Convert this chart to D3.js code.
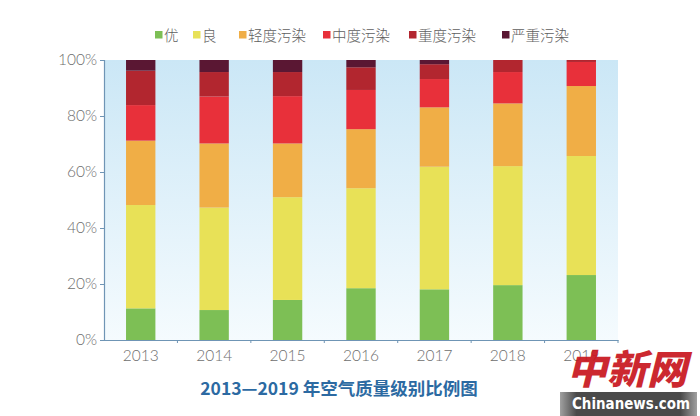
<!DOCTYPE html>
<html><head><meta charset="utf-8">
<script src="https://cdn.jsdelivr.net/npm/d3@7"></script>
<style>
html,body{margin:0;padding:0;background:#fff;}
svg{display:block;}
</style></head>
<body>
<svg id="c" width="700" height="416"></svg>
<script>
const years = ["2013","2014","2015","2016","2017","2018","2019"];
const seriesNames = ["优","良","轻度污染","中度污染","重度污染","严重污染"];
const seriesColors = ["#7dbf55","#e8e157","#f0ae46","#e8303a","#b2262f","#5a1733"];
const excellent = [11.3, 10.7, 14.3, 18.5, 18.1, 19.6, 23.2];
const good      = [36.9, 36.6, 36.7, 35.7, 43.8, 42.5, 42.5];
const light     = [23.0, 22.9, 19.2, 21.1, 21.2, 22.4, 25.0];
const moderate  = [12.7, 16.8, 16.9, 14.0, 10.1, 11.2, 8.6];
const heavy     = [12.3, 8.7, 8.6, 8.1, 5.3, 4.3, 0.7];
const severe    = [3.8, 4.3, 4.3, 2.6, 1.5, 0, 0];
const yTicks = [0, 20, 40, 60, 80, 100];
const titleText = "2013—2019 年空气质量级别比例图";

const seriesValues = [excellent, good, light, moderate, heavy, severe];
const rows = years.map((yr, i) => {
  const r = {year: yr};
  seriesNames.forEach((n, k) => r[n] = seriesValues[k][i]);
  return r;
});
const stacked = d3.stack().keys(seriesNames)(rows);

const svg = d3.select("#c");
const pLeft = 104, pRight = 618, pTop = 60, pBottom = 340;

const x = d3.scaleBand().domain(years).range([pLeft, pRight]).paddingInner(0.6).paddingOuter(0.3);
const y = d3.scaleLinear().domain([0, 100]).range([pBottom, pTop]);

// background gradient
const defs = svg.append("defs");
const grad = defs.append("linearGradient").attr("id","bg").attr("x1",0).attr("y1",0).attr("x2",0).attr("y2",1);
grad.append("stop").attr("offset","0%").attr("stop-color","#cbe7f6");
grad.append("stop").attr("offset","100%").attr("stop-color","#f5fbfe");
svg.append("rect").attr("x", pLeft).attr("y", pTop).attr("width", pRight-pLeft).attr("height", pBottom-pTop).attr("fill","url(#bg)");

// bars
svg.append("g").selectAll("g").data(stacked).join("g")
  .attr("fill", (d, i) => seriesColors[i])
  .selectAll("rect").data(d => d).join("rect")
  .attr("x", d => x(d.data.year))
  .attr("width", x.bandwidth())
  .attr("y", d => y(d[1]))
  .attr("height", d => Math.max(0, y(d[0]) - y(d[1])));

const axisColor = "#6f95b5";
const textColor = "#6e6e6e";
const font = "Lato, 'Noto Sans', sans-serif";

// y axis
const ya = svg.append("g").attr("transform", `translate(${pLeft},0)`)
  .call(d3.axisLeft(y).tickValues(yTicks).tickFormat(d => d + "%").tickSize(4).tickPadding(3));
ya.select(".domain").attr("stroke", axisColor).attr("stroke-width", 1.2);
ya.selectAll(".tick line").attr("stroke", axisColor);
ya.selectAll("text").attr("fill", textColor).attr("font-family", font).attr("font-size", 15.5).attr("font-weight", 300);

// x axis
const xa = svg.append("g").attr("transform", `translate(0,${pBottom})`)
  .call(d3.axisBottom(x).tickSize(0).tickPadding(10));
xa.select(".domain").attr("stroke", axisColor).attr("stroke-width", 1.2);
xa.selectAll("text").attr("fill", textColor).attr("font-family", font).attr("font-size", 15.5).attr("font-weight", 300);
// small ticks at band boundaries
const step = x.step();
const boundaries = years.map((yr, i) => pLeft + step * (i + 1));
svg.append("g").selectAll("line").data(boundaries).join("line")
  .attr("x1", d => d).attr("x2", d => d).attr("y1", pBottom).attr("y2", pBottom + 3)
  .attr("stroke", axisColor);

// legend
const legendX = [155, 193, 239, 323, 409, 502];
const lg = svg.append("g");
seriesNames.forEach((n, i) => {
  lg.append("rect").attr("x", legendX[i]).attr("y", 31).attr("width", 7.5).attr("height", 7.5).attr("fill", seriesColors[i]);
  lg.append("text").attr("x", legendX[i] + 9).attr("y", 40.5).text(n)
    .attr("fill", "#5e5e5e").attr("font-family", "'Noto Sans CJK SC', sans-serif").attr("font-size", 14.5).attr("font-weight", 300);
});

// title
svg.append("text").attr("x", 339).attr("y", 395).attr("text-anchor", "middle").text(titleText)
  .attr("fill", "#2c6aa2").attr("font-family", "'Noto Sans CJK SC', sans-serif").attr("font-size", 17.5).attr("font-weight", 700);

// watermark
svg.append("text").attr("x", 627).attr("y", 384).attr("text-anchor", "middle").text("中新网")
  .attr("fill", "#c8161e").attr("font-family", "'Noto Sans CJK SC', serif").attr("font-size", 40).attr("font-weight", 900)
  .attr("font-style", "italic").attr("opacity", 0.92);
const wg = defs.append("linearGradient").attr("id","wm").attr("x1",0).attr("x2",1);
wg.append("stop").attr("offset","0%").attr("stop-color","#a0a0a0");
wg.append("stop").attr("offset","12%").attr("stop-color","#4a4a4a");
wg.append("stop").attr("offset","88%").attr("stop-color","#4a4a4a");
wg.append("stop").attr("offset","100%").attr("stop-color","#a0a0a0");
svg.append("rect").attr("x", 560).attr("y", 392).attr("width", 137).attr("height", 24).attr("fill", "url(#wm)");
svg.append("text").attr("x", 572).attr("y", 408.5).text("Chinanews.com")
  .attr("textLength", 118).attr("lengthAdjust", "spacingAndGlyphs")
  .attr("fill", "#fff").attr("font-family", "'DejaVu Sans Condensed', 'DejaVu Sans', sans-serif").attr("font-size", 16).attr("font-weight", 700);
</script>
</body></html>
